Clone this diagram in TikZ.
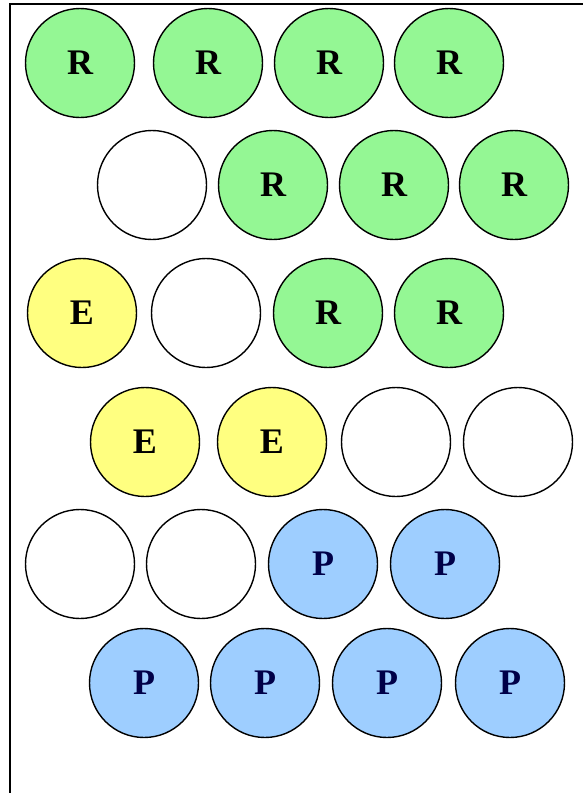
\documentclass[tikz,border=0pt]{standalone}
\usepackage{fontspec}
\setmainfont{Liberation Serif}
\definecolor{rgreen}{RGB}{148,247,148}
\definecolor{eyellow}{RGB}{255,255,128}
\definecolor{pblue}{RGB}{158,206,255}
\definecolor{pnavy}{RGB}{0,0,72}
\tikzset{
  ball/.style={circle,draw=black,line width=1.4pt,minimum size=109pt,inner sep=0pt,
    font=\fontsize{36}{36}\selectfont\bfseries},
  rball/.style={ball,fill=rgreen},
  eball/.style={ball,fill=eyellow},
  pball/.style={ball,fill=pblue,text=pnavy},
  wball/.style={ball,fill=white},
  frame/.style={line width=2pt,black}
}
\begin{document}
\begin{tikzpicture}[x=1pt,y=-1pt]
\useasboundingbox (0,0) rectangle (583,793);
\coordinate (fb) at (10,793);
\coordinate (ftl) at (10,4);
\coordinate (ftr) at (583,4);
\draw[frame] (fb) -- (ftl) -- (ftr);
% row 1
\node[rball] (a1) at (80,63) {R};
\node[rball] (a2) at (208,63) {R};
\node[rball] (a3) at (329,63) {R};
\node[rball] (a4) at (449,63) {R};
% row 2
\node[wball] (b1) at (152,185) {};
\node[rball] (b2) at (273,185) {R};
\node[rball] (b3) at (394,185) {R};
\node[rball] (b4) at (514,185) {R};
% row 3
\node[eball] (c1) at (82,313) {E};
\node[wball] (c2) at (206,313) {};
\node[rball] (c3) at (328,313) {R};
\node[rball] (c4) at (449,313) {R};
% row 4
\node[eball] (d1) at (145,442) {E};
\node[eball] (d2) at (272,442) {E};
\node[wball] (d3) at (396,442) {};
\node[wball] (d4) at (518,442) {};
% row 5
\node[wball] (e1) at (80,564) {};
\node[wball] (e2) at (201,564) {};
\node[pball] (e3) at (323,564) {P};
\node[pball] (e4) at (445,564) {P};
% row 6
\node[pball] (f1) at (144,683) {P};
\node[pball] (f2) at (265,683) {P};
\node[pball] (f3) at (387,683) {P};
\node[pball] (f4) at (510,683) {P};
\end{tikzpicture}
\end{document}
